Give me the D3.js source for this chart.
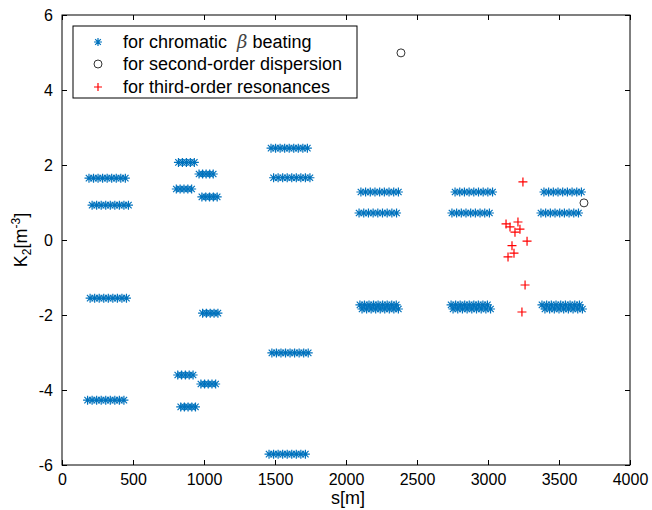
<!DOCTYPE html>
<html>
<head>
<meta charset="utf-8">
<script src="https://cdn.jsdelivr.net/npm/d3@7"></script>
<style>
  body { margin: 0; background: #fff; }
  text { font-family: "Liberation Sans", Arial, sans-serif; fill: #000; }
</style>
</head>
<body>
<div id="chart"></div>
<script>
// chromatic beta beating sextupoles: one K2 value per row, with the s positions of that row
const rowK = [
  1.65, 0.93, -1.55, -4.27,
  2.07, 1.76, 1.36, 1.15, -1.95, -3.6, -3.84, -4.45,
  2.45, 1.66, -3.01, -5.71,
  1.28, 0.72, -1.73, -1.84,
  1.28, 0.72, -1.73, -1.84,
  1.28, 0.72, -1.73, -1.84
]
const rowS = [
  [190, 222, 254, 286, 318, 350, 382, 414, 446],
  [212, 244, 276, 308, 340, 372, 404, 436, 468],
  [198, 230, 262, 294, 326, 358, 390, 422, 454],
  [180, 212, 244, 276, 308, 340, 372, 404, 436],
  [820, 848, 876, 904, 932],
  [965, 990, 1015, 1040, 1065],
  [805, 832, 859, 886, 913],
  [985, 1012, 1039, 1066, 1093],
  [990, 1017, 1044, 1071, 1098],
  [815, 842, 869, 896, 923],
  [978, 1004, 1030, 1056, 1082],
  [836, 862, 888, 914, 940],
  [1472, 1504, 1536, 1568, 1600, 1632, 1664, 1696, 1728],
  [1490, 1522, 1554, 1586, 1618, 1650, 1682, 1714, 1746],
  [1478, 1510, 1542, 1574, 1606, 1638, 1670, 1702, 1734],
  [1458, 1490, 1522, 1554, 1586, 1618, 1650, 1682, 1714],
  [2105, 2138, 2171, 2204, 2237, 2270, 2303, 2336, 2369],
  [2092, 2125, 2158, 2191, 2224, 2257, 2290, 2323, 2356],
  [2098, 2130, 2162, 2194, 2226, 2258, 2290, 2322, 2354],
  [2113, 2145, 2177, 2209, 2241, 2273, 2305, 2337, 2369],
  [2768, 2801, 2834, 2867, 2900, 2933, 2966, 2999, 3032],
  [2746, 2779, 2812, 2845, 2878, 2911, 2944, 2977, 3010],
  [2740, 2772, 2804, 2836, 2868, 2900, 2932, 2964, 2996],
  [2754, 2787, 2820, 2853, 2886, 2919, 2952, 2985, 3018],
  [3394, 3427, 3460, 3493, 3526, 3559, 3592, 3625, 3658],
  [3373, 3406, 3439, 3472, 3505, 3538, 3571, 3604, 3637],
  [3380, 3413, 3446, 3479, 3512, 3545, 3578, 3611, 3644],
  [3401, 3434, 3467, 3500, 3533, 3566, 3599, 3632, 3665]
]

// second-order dispersion
const dispS = [2387, 3676]
const dispK = [4.99, 0.99]

// third-order resonances
const resS = [3246, 3127, 3155, 3211, 3225, 3190, 3275, 3169, 3183, 3141, 3261, 3239]
const resK = [1.55, 0.43, 0.35, 0.48, 0.29, 0.21, -0.03, -0.15, -0.35, -0.45, -1.2, -1.92]

const xTicks = [0, 500, 1000, 1500, 2000, 2500, 3000, 3500, 4000]
const yTicks = [-6, -4, -2, 0, 2, 4, 6]

const legendLabels = ['for chromatic', 'for second-order dispersion', 'for third-order resonances']

const width = 652
const height = 510
const margin = { top: 15, right: 22, bottom: 45, left: 62 }
const plotW = width - margin.left - margin.right
const plotH = height - margin.top - margin.bottom

const blue = '#0072BD'
const red = '#FF0000'

const svg = d3.select('#chart').append('svg')
  .attr('width', width)
  .attr('height', height)

const plot = svg.append('g')
  .attr('transform', `translate(${margin.left}, ${margin.top})`)

// scales
const x = d3.scaleLinear().domain([0, 4000]).range([0, plotW])
const y = d3.scaleLinear().domain([-6, 6]).range([plotH, 0])

// axes, MATLAB style: ticks pointing inward on all four sides
const tickLen = 5
const plain = d => String(d)
plot.append('g')
  .attr('transform', `translate(0, ${plotH})`)
  .call(d3.axisBottom(x).tickValues(xTicks).tickFormat(plain).tickSizeInner(-tickLen).tickSizeOuter(0).tickPadding(9))
plot.append('g')
  .call(d3.axisLeft(y).tickValues(yTicks).tickFormat(plain).tickSizeInner(-tickLen).tickSizeOuter(0).tickPadding(9))
plot.append('g')
  .call(d3.axisTop(x).tickValues(xTicks).tickSizeInner(-tickLen).tickSizeOuter(0).tickFormat(''))
plot.append('g')
  .attr('transform', `translate(${plotW}, 0)`)
  .call(d3.axisRight(y).tickValues(yTicks).tickSizeInner(-tickLen).tickSizeOuter(0).tickFormat(''))

plot.selectAll('.domain').remove()
plot.selectAll('.tick line').attr('stroke', '#000').attr('stroke-width', 1)
plot.selectAll('.tick text')
  .attr('font-size', 16)
  .attr('font-family', '"Liberation Sans", Arial, sans-serif')

plot.append('rect')
  .attr('width', plotW)
  .attr('height', plotH)
  .attr('fill', 'none')
  .attr('stroke', '#000')
  .attr('stroke-width', 1)

// markers
function asterisk(g, r) {
  const d = r * 0.7071
  g.append('path')
    .attr('d', `M${-r},0H${r}M0,${-r}V${r}M${-d},${-d}L${d},${d}M${-d},${d}L${d},${-d}`)
}

function plus(g, r) {
  g.append('path').attr('d', `M${-r},0H${r}M0,${-r}V${r}`)
}

const starPts = []
rowS.forEach((row, i) => row.forEach(s => starPts.push({ s, k: rowK[i] })))

const stars = plot.append('g')
  .attr('fill', 'none')
  .attr('stroke', blue)
  .attr('stroke-width', 1.2)
stars.selectAll('g')
  .data(starPts)
  .enter()
  .append('g')
  .attr('transform', d => `translate(${x(d.s)}, ${y(d.k)})`)
  .each(function() { asterisk(d3.select(this), 4.5) })

plot.append('g')
  .selectAll('circle')
  .data(dispS.map((s, i) => ({ s, k: dispK[i] })))
  .enter()
  .append('circle')
  .attr('cx', d => x(d.s))
  .attr('cy', d => y(d.k))
  .attr('r', 4)
  .attr('fill', 'none')
  .attr('stroke', '#333')
  .attr('stroke-width', 1)

const plusses = plot.append('g')
  .attr('fill', 'none')
  .attr('stroke', red)
  .attr('stroke-width', 1.2)
plusses.selectAll('g')
  .data(resS.map((s, i) => ({ s, k: resK[i] })))
  .enter()
  .append('g')
  .attr('transform', d => `translate(${x(d.s)}, ${y(d.k)})`)
  .each(function() { plus(d3.select(this), 4.5) })

// axis labels
svg.append('text')
  .attr('x', margin.left + plotW / 2 + 2)
  .attr('y', 504)
  .attr('text-anchor', 'middle')
  .attr('font-size', 18)
  .text('s[m]')

const yLab = svg.append('text')
  .attr('transform', `translate(27, ${margin.top + plotH / 2}) rotate(-90)`)
  .attr('text-anchor', 'middle')
  .attr('font-size', 18)
yLab.append('tspan').text('K')
yLab.append('tspan').attr('font-size', 12).attr('dy', 4).text('2')
yLab.append('tspan').attr('dy', -4).text('[m')
yLab.append('tspan').attr('font-size', 12).attr('dy', -7).text('-3')
yLab.append('tspan').attr('dy', 7).text(']')

// legend
const legend = svg.append('g').attr('transform', 'translate(73, 26)')
legend.append('rect')
  .attr('width', 284)
  .attr('height', 72)
  .attr('fill', '#fff')
  .attr('stroke', '#000')
  .attr('stroke-width', 1)

const rowsY = [16, 38, 61]
const l1 = legend.append('g').attr('transform', `translate(25, ${rowsY[0]})`)
  .attr('fill', 'none').attr('stroke', blue).attr('stroke-width', 1.2)
asterisk(l1, 4)
legend.append('circle')
  .attr('cx', 25).attr('cy', rowsY[1]).attr('r', 4)
  .attr('fill', 'none').attr('stroke', '#333')
const l3 = legend.append('g').attr('transform', `translate(25, ${rowsY[2]})`)
  .attr('fill', 'none').attr('stroke', red).attr('stroke-width', 1.2)
plus(l3, 4)

const t1 = legend.append('text')
  .attr('x', 50).attr('y', rowsY[0] + 6).attr('font-size', 18)
t1.append('tspan').text(legendLabels[0] + '\u00a0\u00a0')
t1.append('tspan')
  .attr('font-family', '"DejaVu Serif", serif')
  .attr('font-style', 'italic')
  .attr('fill', '#444')
  .text('\u03b2')
t1.append('tspan').text(' beating')

legend.append('text')
  .attr('x', 50).attr('y', rowsY[1] + 6).attr('font-size', 18)
  .text(legendLabels[1])
legend.append('text')
  .attr('x', 50).attr('y', rowsY[2] + 6).attr('font-size', 18)
  .text(legendLabels[2])
</script>
</body>
</html>
